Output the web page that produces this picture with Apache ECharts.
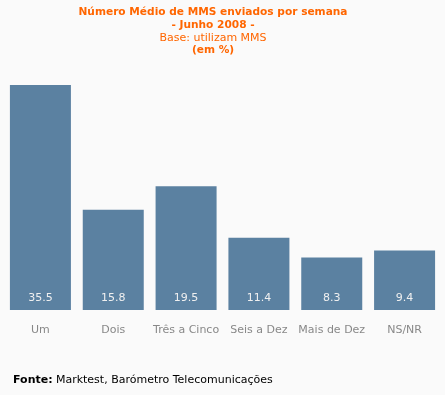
<!DOCTYPE html>
<html><head><meta charset="utf-8">
<script src="https://cdn.jsdelivr.net/npm/echarts@6/dist/echarts.min.js"></script>
<style>html,body{margin:0;padding:0;background:#fafafa}#c{width:445px;height:395px}</style>
</head><body><div id="c"></div>
<script>
const categories = ["Um","Dois","Três a Cinco","Seis a Dez","Mais de Dez","NS/NR"];
const values = [35.5, 15.8, 19.5, 11.4, 8.3, 9.4];
const titleLines = ["Número Médio de MMS enviados por semana","- Junho 2008 -","Base: utilizam MMS","(em %)"];
const FONT = "DejaVu Sans";
const chart = echarts.init(document.getElementById('c'));
chart.setOption({
  backgroundColor: '#fafafa',
  animation: false,
  title: {
    left: 208, top: 1, textAlign: 'center',
    text: '{b|' + titleLines[0] + '}\n{b|' + titleLines[1] + '}\n{n|' + titleLines[2] + '}\n{b|' + titleLines[3] + '}',
    textStyle: {
      rich: {
        b: {fontFamily: FONT, fontSize: 10.6, fontWeight: 'bold', color: '#ff6600', lineHeight: 12.7, align: 'center'},
        n: {fontFamily: FONT, fontSize: 11, fontWeight: 'normal', color: '#ff6600', lineHeight: 12.7, align: 'center'}
      }
    }
  },
  grid: {left: 4, width: 437, top: 56.4, bottom: 85, containLabel: false},
  xAxis: {
    type: 'category', data: categories,
    axisLine: {show: false}, axisTick: {show: false},
    axisLabel: {fontFamily: FONT, fontSize: 11, color: '#888', margin: 15, interval: 0}
  },
  yAxis: {type: 'value', min: 0, max: 40, show: false, splitLine: {show: false}},
  series: [{
    type: 'bar', data: values, barWidth: 61,
    itemStyle: {color: '#5b81a1'},
    label: {show: true, position: 'insideBottom', distance: 6, fontFamily: FONT, fontSize: 11, color: '#f0f0f0',
      formatter: p => p.value.toFixed(1)}
  }],
  graphic: [{
    type: 'text', left: 13, top: 374,
    style: {
      text: '{b|Fonte:} {n|Marktest, Barómetro Telecomunicações}',
      rich: {
        b: {fontFamily: FONT, fontSize: 11, fontWeight: 'bold', fill: '#000'},
        n: {fontFamily: FONT, fontSize: 11, fill: '#000'}
      }
    }
  }]
});
</script></body></html>
